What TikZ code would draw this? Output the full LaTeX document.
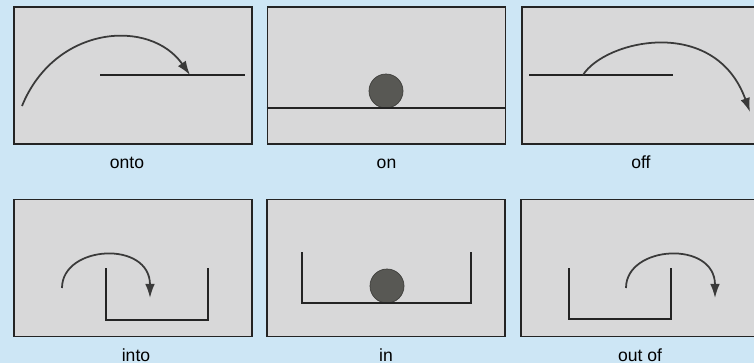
\documentclass[tikz,border=0pt]{standalone}
\usepackage{fontspec}
\setsansfont{Liberation Sans}
\usetikzlibrary{positioning,arrows.meta}
\definecolor{pagebg}{RGB}{205, 230, 245}
\definecolor{panelfill}{RGB}{216, 216, 217}
\definecolor{lineblack}{RGB}{36, 36, 36}
\definecolor{ballgray}{RGB}{88, 88, 84}

\begin{document}
\begin{tikzpicture}[
      x=0.02cm, y=-0.02cm,
      panel/.style={draw=lineblack, fill=panelfill, line width=1.1pt,
                    minimum width=4.76cm, minimum height=2.74cm,
                    inner sep=0pt},
      surf/.style={draw=lineblack, line width=1.1pt},
      jump/.style={draw=lineblack!90, line width=1pt,
                   -{Latex[length=8pt, width=5.5pt]}},
      ball/.style={circle, fill=ballgray, draw=ballgray!70!black,
                   minimum size=0.68cm, inner sep=0pt},
      lbl/.style={font=\sffamily, inner sep=0pt,
                  text height=1.5ex, text depth=0pt},
    ]
    \useasboundingbox (0,0) rectangle (754,363);
    \fill[pagebg] (0,0) rectangle (754,363);
    \clip (0,0) rectangle (754,363);
    %% panels
    \node[panel] (p1) at (133,75.5) {};
    \node[panel] (p2) at (386.5,75.5) {};
    \node[panel] (p3) at (641,75.5) {};
    \node[panel] (p4) at (133,268) {};
    \node[panel] (p5) at (386,268) {};
    \node[panel] (p6) at (640,268) {};
    %% labels
    \node[lbl, below=0.24cm of p1, xshift=-0.12cm] (l1) {onto};
    \node[lbl, below=0.24cm of p2] (l2) {on};
    \node[lbl, below=0.24cm of p3] (l3) {off};
    \node[lbl, below=0.24cm of p4, xshift=0.06cm] (l4) {into};
    \node[lbl, below=0.24cm of p5] (l5) {in};
    \node[lbl, below=0.24cm of p6] (l6) {out of};
    %% onto
    \coordinate (s1a) at (100,75);
    \coordinate (s1b) at (245,75);
    \coordinate (j1) at (22,106);
    \coordinate (k1) at (190,75);
    \draw[surf] (s1a) -- (s1b);
    \draw[jump] (j1) .. controls (55,25) and (150,18) .. (k1);
    %% on
    \node[ball] (b2) at (386,91) {};
    \draw[surf] (p2.west |- b2.south) -- (p2.east |- b2.south);
    %% off
    \coordinate (s3a) at (529,75);
    \coordinate (s3b) at (673,75);
    \coordinate (j3) at (583,75);
    \coordinate (k3) at (750,112);
    \draw[surf] (s3a) -- (s3b);
    \draw[jump] (j3) .. controls (605,40) and (715,15) .. (k3);
    %% into
    \coordinate (j4) at (62,288);
    \coordinate (k4) at (150,298);
    \draw[surf] (106,268) -- (106,320) -- (208,320) -- (208,268);
    \draw[jump] (j4) .. controls (62,245) and (150,240) .. (k4);
    %% in
    \node[ball] (b5) at (387,286) {};
    \coordinate (u5a) at (302,252);
    \coordinate (u5b) at (471,252);
    \draw[surf] (u5a) -- (u5a |- b5.south) -- (u5b |- b5.south) -- (u5b);
    %% out of
    \coordinate (j6) at (626,288);
    \coordinate (k6) at (715,298);
    \draw[surf] (569,268) -- (569,319) -- (671,319) -- (671,268);
    \draw[jump] (j6) .. controls (626,245) and (715,240) .. (k6);
\end{tikzpicture}
\end{document}
